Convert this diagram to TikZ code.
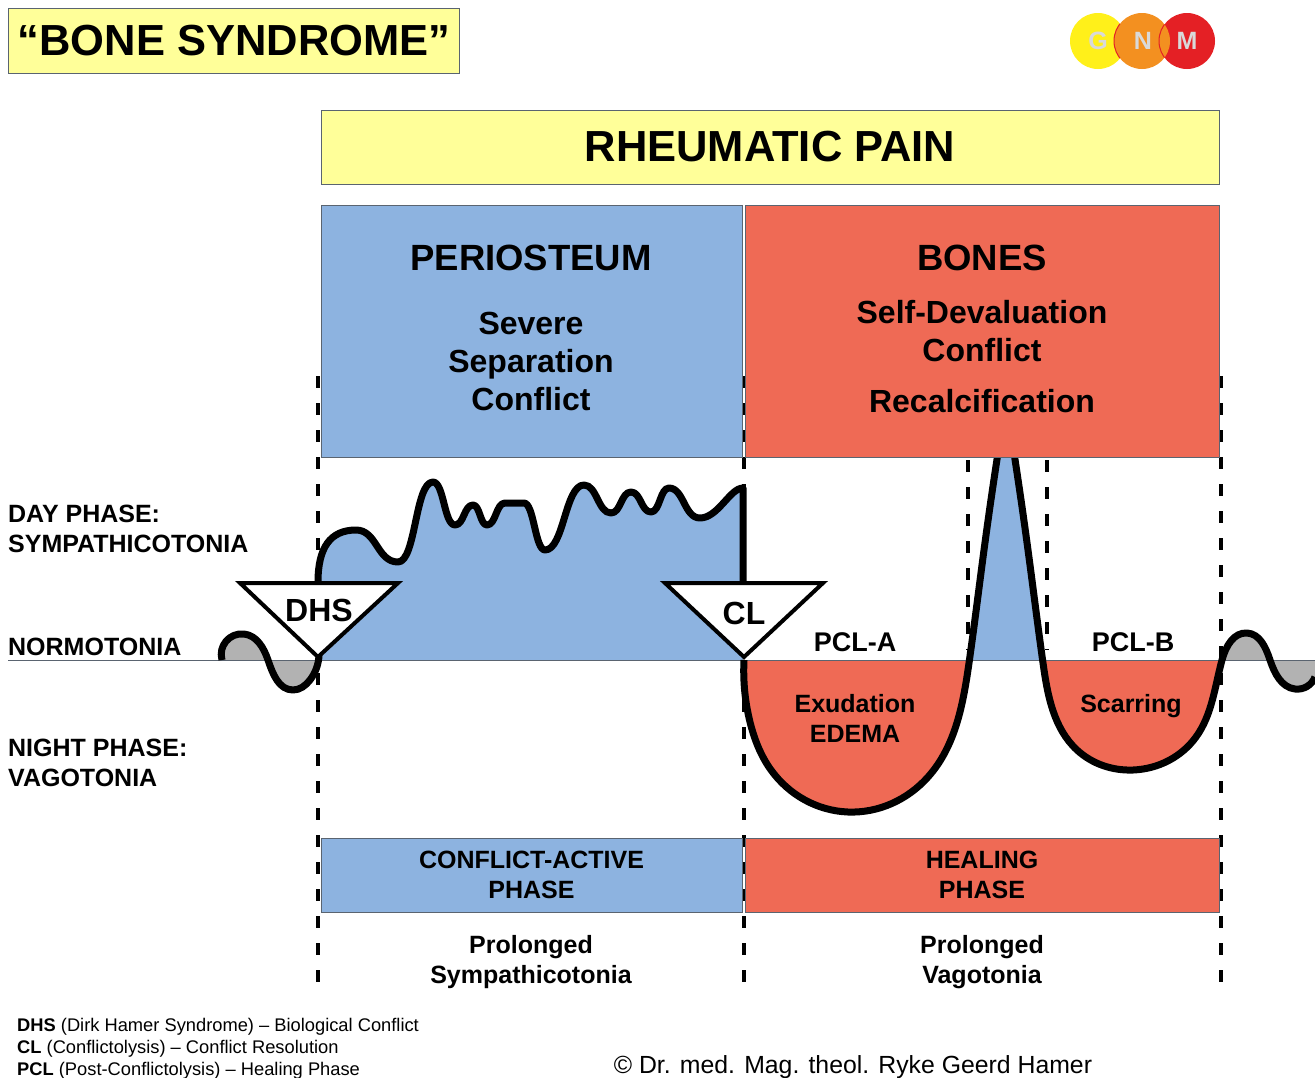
\documentclass[tikz,border=0pt]{standalone}
\usepackage{fontspec}
\setmainfont{Liberation Sans}
\usetikzlibrary{hobby}
\definecolor{paleyellow}{HTML}{FFFF99}
\definecolor{phaseblue}{HTML}{8DB3E0}
\definecolor{phasered}{HTML}{EF6A55}
\definecolor{edgegray}{HTML}{5A6470}
\definecolor{wavegray}{HTML}{B2B2B2}
\definecolor{logoyellow}{HTML}{FFF01A}
\definecolor{logoorange}{HTML}{F39020}
\definecolor{logored}{HTML}{E42025}
\newcommand{\fsz}[2]{\fontsize{#1}{#2}\selectfont}
\newcommand{\daycurve}{(318,582) .. controls (318,548) and (330,530) .. (356,530)
	.. controls (377,530) and (377,562) .. (398,562)
	.. controls (416,562) and (415,482) .. (433,482)
	.. controls (444,482) and (444,525) .. (455,525)
	.. controls (464,525) and (464,505) .. (473,505)
	.. controls (480,505) and (480,525) .. (487,525)
	.. controls (496,525) and (496,503) .. (505,503) -- (524,503)
	.. controls (534,503) and (535,550) .. (545,550)
	.. controls (564,550) and (565,485) .. (584,485)
	.. controls (597,485) and (598,513) .. (611,513)
	.. controls (621,513) and (621,492) .. (631,492)
	.. controls (641,492) and (641,512) .. (651,512)
	.. controls (660,512) and (660,488) .. (669,488)
	.. controls (684,488) and (684,518) .. (700,518)
	.. controls (718,518) and (730,488) .. (743,488)}
\newcommand{\leftwave}{(222,660) to[curve through={(244,634) (268,660) (293,690) (310,680)}] (319,655)}
\newcommand{\healcurve}{(744,660) to[curve through={(750,722) (771,770) (848,812) (928,777) (969,663) (984,550)}] (1000,440) -- (1012,440) to[curve through={(1028,550) (1043,663) (1077,750) (1133,770) (1196,737) (1222,660) (1247,633) (1270,660) (1295,689)}] (1315,677)}
\tikzset{
	phasebox/.style={draw=edgegray, line width=1pt, inner sep=0pt, align=center},
	heavy/.style={line width=7pt, line join=round},
	guide/.style={line width=3.5pt, dash pattern=on 12pt off 15pt},
	lbl/.style={font=\bfseries\fsz{25}{30}, align=center, inner sep=0pt},
	big/.style={font=\bfseries\fsz{32}{38}, align=center, inner sep=0pt},
	foot/.style={font=\fsz{18.3}{22}, align=left, inner sep=0pt, anchor=north west},
	tri/.style={draw, fill=white, line width=4pt, line join=miter}
}
\begin{document}
\begin{tikzpicture}[x=1pt, y=-1pt]
	\useasboundingbox (0,0) rectangle (1315,1077);
	% guide lines
	\foreach \x in {318,744,1221} {\draw[guide] (\x,376) -- (\x,985);}
	\foreach \x in {968,1047} {\draw[guide] (\x,460) -- (\x,650);}
	% blue area of the active phase
	\fill[phaseblue] \daycurve -- (743,660) -- (318,660) -- cycle;
	% fills of the healing curve
	\begin{scope}
		\clip (744,660) rectangle (1219,830);
		\fill[phasered] \healcurve -- (1315,660) -- cycle;
	\end{scope}
	\begin{scope}
		\clip (960,400) rectangle (1060,660);
		\fill[phaseblue] \healcurve -- (1315,660) -- cycle;
	\end{scope}
	\begin{scope}
		\clip (1219,600) rectangle (1315,700);
		\fill[wavegray] \healcurve -- (1315,660) -- cycle;
	\end{scope}
	\fill[wavegray] \leftwave -- (319,660) -- cycle;
	% normotonia line
	\draw[edgegray, line width=1.5pt] (8,660.5) -- (1315,660.5);
	% curves
	\draw[heavy] \leftwave;
	\draw[heavy] \daycurve -- (743,582);
	\draw[heavy] \healcurve;
	% triangles
	\draw[tri] (240,583) -- (398,583) -- (318,657) -- cycle;
	\draw[tri] (665,583) -- (823,583) -- (744,657) -- cycle;
	\node[big] (dhs) at (319,610) {DHS};
	\node[big] (cl) at (744,613) {CL};
	% boxes
	\node[phasebox, fill=paleyellow, minimum width=451pt, minimum height=65pt, font=\bfseries\fsz{43.5}{50}] (title) at (234,41) {\raisebox{-1.5pt}{“BONE SYNDROME”}};
	\node[phasebox, fill=paleyellow, minimum width=898pt, minimum height=74pt, font=\bfseries\fsz{43.5}{50}] (rheumatic) at (770,147) {\raisebox{-2pt}{RHEUMATIC PAIN}};
	\node[phasebox, fill=phaseblue, minimum width=421pt, minimum height=252pt] (periosteum) at (531.5,331) {};
	\node[phasebox, fill=phasered, minimum width=474pt, minimum height=252pt] (bones) at (982,331) {};
	\node[phasebox, fill=phaseblue, minimum width=421pt, minimum height=74pt, font=\bfseries\fsz{25}{30}] (active) at (531.5,875) {CONFLICT-ACTIVE\\PHASE};
	\node[phasebox, fill=phasered, minimum width=474pt, minimum height=74pt, font=\bfseries\fsz{25}{30}] (healing) at (982,875) {HEALING\\PHASE};
	% texts in the boxes
	\node[big, font=\bfseries\fsz{36.5}{40}] (periname) at (531,258) {PERIOSTEUM};
	\node[big] (sepconflict) at (531,361) {Severe\\Separation\\Conflict};
	\node[big, font=\bfseries\fsz{36.5}{40}] (bonename) at (982,258) {BONES};
	\node[big] (selfdev) at (982,331) {Self-Devaluation\\Conflict};
	\node[big] (recalc) at (982,401) {Recalcification};
	% labels
	\node[lbl, align=left, anchor=west] (day) at (8,529) {DAY PHASE:\\SYMPATHICOTONIA};
	\node[lbl, anchor=west] (normo) at (8,647) {NORMOTONIA};
	\node[lbl, align=left, anchor=west] (night) at (8,763) {NIGHT PHASE:\\VAGOTONIA};
	\node[lbl, font=\bfseries\fsz{27}{30}] (pcla) at (855,642) {PCL-A};
	\node[lbl, font=\bfseries\fsz{27}{30}] (pclb) at (1133,642) {PCL-B};
	\node[lbl] (exudation) at (855,718) {Exudation\\EDEMA};
	\node[lbl] (scarring) at (1131,706) {Scarring};
	\node[lbl] (prolsym) at (531,962) {Prolonged\\Sympathicotonia};
	\node[lbl] (prolvag) at (982,962) {Prolonged\\Vagotonia};
	% footer
	\node[foot] (legend) at (17,1018) {\textbf{DHS} (Dirk Hamer Syndrome) – Biological Conflict\\\textbf{CL} (Conflictolysis) – Conflict Resolution\\\textbf{PCL} (Post-Conflictolysis) – Healing Phase};
	\node[inner sep=0pt, font=\fsz{24.8}{28}] (copyright) at (853,1067) {© Dr. med. Mag. theol. Ryke Geerd Hamer};
	% logo
	\fill[logoyellow] (1098,41) circle (28);
	\fill[logored] (1187,41) circle (28);
	\fill[logoorange] (1142,41) circle (28);
	\begin{scope}
		\clip (1098,41) circle (28);
		\draw[logored, line width=1pt] (1142,41) circle (28);
	\end{scope}
	\begin{scope}
		\clip (1142,41) circle (28);
		\draw[logored, line width=1pt] (1187,41) circle (28);
	\end{scope}
	\foreach \x/\t in {1098/G,1143/N,1187/M} {\node[white!85!black, font=\bfseries\fsz{25}{28}, inner sep=0pt] (logo\t) at (\x,41) {\t};}
\end{tikzpicture}
\end{document}
